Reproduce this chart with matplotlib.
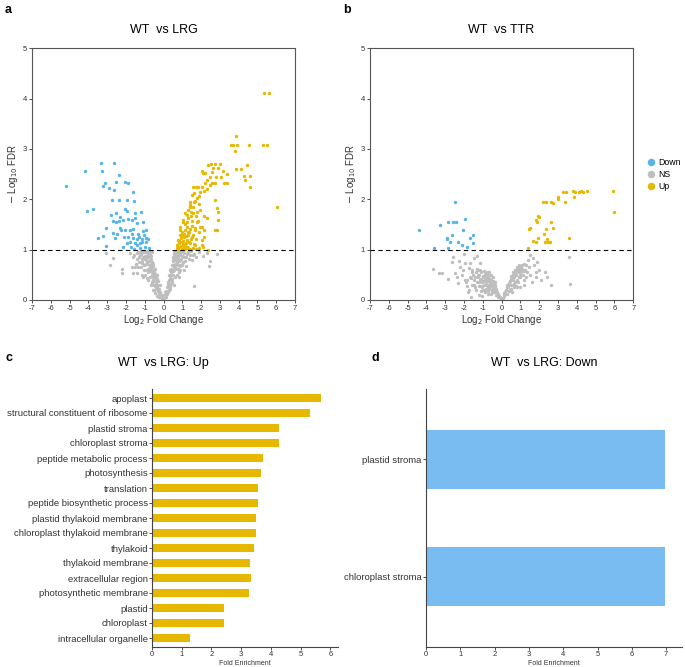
import matplotlib
matplotlib.use("Agg")
import matplotlib.pyplot as plt
import numpy as np

plt.rcParams['font.family'] = ['Liberation Sans', 'DejaVu Sans']
plt.rcParams['axes.unicode_minus'] = False

# colours
blue = "#56B4E9"
yellow = "#E7B800"
grey = "#BEBEBE"
bar_yellow = "#E6B800"
bar_blue = "#78BCF2"

# ---- panel a: WT vs LRG volcano (log2FC, -log10 FDR)
a_down_x = [-5.18, -4.18, -3.34, -2.64, -3.26, -4.09, -3.74, -3.11, -2.51, -2.37, -2.88, -2.66,
            -3.20, -2.03, -1.91, -1.61, -2.76, -2.35, -1.93, -1.59, -3.50, -3.06, -3.20, -3.06,
            -2.58, -2.03, -1.93, -2.82, -2.51, -2.32, -2.14, -1.88, -1.70, -1.52, -1.20, -1.50,
            -1.43, -1.08, -2.67, -2.55, -2.37, -2.32, -2.05, -1.78, -1.61, -2.67, -2.46, -2.28,
            -2.10, -1.88, -1.61, -1.43, -1.29, -1.17, -1.04, -0.93, -0.95, -0.81, -1.26, -1.52,
            -1.96, -2.14, -1.75, -1.26, -0.99, -0.75, -1.57, -1.78, -1.70, -1.34, -1.08, -1.40,
            -1.17, -0.91]
a_down_y = [2.26, 2.56, 2.72, 2.72, 2.56, 1.77, 1.80, 2.33, 2.35, 2.49, 2.22, 2.19,
            2.27, 2.34, 2.33, 2.14, 1.99, 1.99, 1.99, 1.97, 1.23, 1.43, 1.27, 1.07,
            1.23, 1.80, 1.76, 1.69, 1.72, 1.64, 1.59, 1.60, 1.59, 1.73, 1.74, 1.62,
            1.52, 1.54, 1.56, 1.54, 1.56, 1.44, 1.40, 1.40, 1.42, 1.34, 1.32, 1.39,
            1.25, 1.26, 1.23, 1.21, 1.25, 1.21, 1.29, 1.39, 1.23, 1.21, 1.13, 1.14,
            1.14, 1.05, 1.06, 1.03, 1.05, 1.03, 1.01, 1.16, 1.32, 1.32, 1.38, 1.09,
            1.16, 1.16]

a_up_x = [5.35, 5.63, 3.86, 3.57, 3.72, 3.89, 3.81, 4.57, 5.28, 5.49, 3.86, 4.11, 4.43, 4.31,
          4.61, 4.34, 4.61, 6.02, 2.03, 2.21, 2.39, 2.51, 2.74, 3.01, 2.65, 2.92, 3.15, 3.36,
          2.45, 2.81, 3.06, 3.22, 3.36, 2.56, 2.72, 2.21, 2.03, 1.59, 1.73, 1.86, 2.16, 1.50,
          1.90, 2.74, 2.83, 2.88, 2.92, 2.74, 2.86, 2.30, 1.41, 1.68, 1.59, 1.90, 1.32, 1.77,
          1.94, 2.16, 2.30, 1.45, 1.23, 1.02, 1.23, 1.54, 1.84, 1.94, 2.07, 2.16, 1.90, 1.68,
          1.41, 1.15, 0.97, 0.88, 1.09, 1.32, 1.54, 1.75, 2.03, 2.16, 2.03, 2.12, 2.39, 0.79,
          0.97, 1.20, 1.41, 1.68, 1.90, 0.70, 0.88, 1.09, 1.32, 1.59, 0.70, 0.79, 0.97, 1.15,
          1.41, 1.75, 0.84, 1.02, 1.23, 0.91, 1.09, 1.32, 1.50, 1.27, 1.15, 1.73, 1.41, 1.59,
          1.77, 1.94, 2.08, 2.30, 2.56, 2.48, 0.88, 0.75, 0.82, 0.95, 1.05, 1.12, 1.25, 1.35,
          1.45, 0.90, 1.00, 1.18, 1.38, 1.55, 1.62, 1.70, 1.80, 1.05, 1.28, 1.48, 1.12, 1.40,
          1.62, 1.65]
a_up_y = [4.12, 4.12, 3.25, 3.08, 3.08, 3.08, 2.96, 3.08, 3.08, 3.08, 2.61, 2.61, 2.68, 2.47,
          2.47, 2.38, 2.24, 1.85, 2.56, 2.52, 2.68, 2.70, 2.70, 2.70, 2.62, 2.62, 2.57, 2.50,
          2.45, 2.45, 2.45, 2.33, 2.33, 2.33, 2.33, 2.33, 2.24, 2.25, 2.25, 2.25, 2.17, 2.09,
          2.07, 1.99, 1.82, 1.74, 1.59, 1.40, 1.40, 2.20, 1.95, 1.97, 1.85, 1.91, 1.79, 1.75,
          1.79, 1.67, 1.62, 1.66, 1.69, 1.59, 1.54, 1.56, 1.57, 1.46, 1.46, 1.39, 1.36, 1.40,
          1.42, 1.39, 1.36, 1.29, 1.26, 1.29, 1.25, 1.21, 1.19, 1.25, 1.09, 1.05, 1.00, 1.19,
          1.16, 1.13, 1.14, 1.09, 1.03, 1.09, 1.06, 1.05, 1.03, 1.03, 1.03, 1.01, 1.01, 1.01,
          1.01, 1.01, 1.13, 1.11, 1.19, 1.24, 1.32, 1.36, 1.47, 1.46, 1.51, 1.66, 1.89, 1.72,
          2.02, 2.15, 2.52, 2.38, 2.55, 2.28, 1.39, 1.06, 1.17, 1.08, 1.18, 1.10, 1.06, 1.15,
          1.22, 1.45, 1.30, 1.28, 1.35, 1.30, 1.12, 1.44, 1.55, 1.55, 1.62, 1.75, 1.72, 1.85,
          1.95, 2.12]

a_ns_x = [-3.06, -2.71, -2.85, -2.23, -2.23, -1.78, -1.61, -1.43, -1.70, -1.52, -1.34, -1.43,
          -1.61, -1.17, -1.04, -1.17, -0.90, -0.81, -0.90, -0.72, -0.63, -0.54, -0.45, -0.36,
          -0.22, -0.10, -0.05, -0.12, -0.18, -0.22, -0.28, -0.30, -0.35, -0.33, -0.40, -0.42,
          -0.46, -0.50, -0.52, -0.55, -0.58, -0.60, -0.62, -0.65, -0.68, -0.70, -0.72, -0.75,
          -0.78, -0.80, -0.85, -0.88, -0.92, -0.95, -1.00, -1.05, -1.10, -1.15, -1.20, -1.25,
          -1.30, -0.70, -0.80, -0.90, -1.00, -0.60, -0.50, -0.40, -0.85, -1.10,
          -0.08, -0.15, -0.20, -0.25, -0.32, -0.38, -0.42, -0.45, -0.50, -0.55, -0.58, -0.60,
          -0.63, -0.67, -0.70, -0.73, -0.76, -0.80, -0.83, -0.86, -0.90, -0.95, -0.98, -1.02,
          -1.08, -1.12, -1.18, -1.22, -1.28, -1.35, -1.40, -1.45, -1.55, -0.55, -0.65, -0.45,
          -0.35, -0.28, -0.72, -0.62,
          0.05, 0.10, 0.15, 0.20, 0.18, 0.25, 0.28, 0.30, 0.35, 0.33, 0.38, 0.40, 0.42, 0.45,
          0.48, 0.50, 0.52, 0.55, 0.58, 0.60, 0.62, 0.65, 0.68, 0.70, 0.72, 0.75, 0.78, 0.80,
          0.85, 0.90, 0.95, 1.00, 1.05, 1.10, 1.20, 1.30, 1.40, 1.50, 1.60, 1.75, 1.90, 2.10,
          2.30, 2.45, 2.40, 2.85, 1.65, 0.90, 0.70, 1.10, 0.55, 0.80, 1.00, 1.20, 0.65, 0.75,
          0.85, 0.95, 0.60, 0.45, 0.35, -0.15, -0.25, -0.38, -0.48, -0.55, -0.65, -0.75,
          0.08, 0.12, 0.22, 0.25, 0.30, 0.32, 0.36, 0.40, 0.44, 0.46, 0.50, 0.53, 0.56, 0.58,
          0.62, 0.64, 0.66, 0.70, 0.73, 0.76, 0.80, 0.82, 0.86, 0.90, 0.94, 0.98, 1.02, 1.08,
          1.15, 1.25, 1.35, 1.45, 1.55, 0.40, 0.48, 0.55, 0.35, 0.28, 0.62, 0.70]
a_ns_y = [0.93, 0.84, 0.70, 0.61, 0.53, 0.93, 0.86, 0.93, 0.66, 0.66, 0.66, 0.53,
          0.53, 0.73, 0.60, 0.50, 0.43, 0.86, 0.73, 0.66, 0.33, 0.20, 0.13, 0.07,
          0.05, 0.01, 0.03, 0.08, 0.15, 0.22, 0.18, 0.30, 0.38, 0.25, 0.45, 0.35,
          0.52, 0.42, 0.60, 0.50, 0.68, 0.55, 0.75, 0.62, 0.82, 0.70, 0.90, 0.78,
          0.95, 0.85, 0.92, 0.72, 0.80, 0.96, 0.88, 0.70, 0.95, 0.82, 0.66, 0.90,
          0.75, 0.45, 0.55, 0.60, 0.50, 0.35, 0.30, 0.22, 0.40, 0.45,
          0.10, 0.05, 0.30, 0.12, 0.42, 0.30, 0.50, 0.28, 0.55, 0.38, 0.45, 0.65,
          0.50, 0.72, 0.58, 0.65, 0.88, 0.62, 0.78, 0.98, 0.88, 0.72, 0.82, 0.95,
          0.85, 0.75, 0.92, 0.98, 0.85, 0.95, 0.82, 0.72, 0.90, 0.72, 0.88, 0.62,
          0.50, 0.38, 0.98, 0.95,
          0.04, 0.10, 0.18, 0.25, 0.12, 0.32, 0.20, 0.40, 0.48, 0.30, 0.55, 0.40, 0.62, 0.50,
          0.70, 0.58, 0.78, 0.65, 0.85, 0.72, 0.92, 0.80, 0.97, 0.88, 0.75, 0.95, 0.85, 0.70,
          0.90, 0.80, 0.95, 0.88, 0.75, 0.93, 0.85, 0.95, 0.90, 0.80, 0.92, 0.85, 0.95, 0.88,
          0.93, 0.78, 0.68, 0.92, 0.28, 0.60, 0.50, 0.60, 0.30, 0.45, 0.70, 0.68, 0.90, 0.62,
          0.55, 0.98, 0.45, 0.35, 0.22, 0.10, 0.12, 0.28, 0.20, 0.40, 0.30, 0.60,
          0.15, 0.05, 0.35, 0.15, 0.50, 0.25, 0.60, 0.32, 0.70, 0.42, 0.80, 0.50, 0.92, 0.60,
          0.65, 0.98, 0.72, 0.62, 0.82, 0.70, 0.98, 0.78, 0.68, 0.92, 0.82, 0.72, 0.98, 0.85,
          0.78, 0.92, 0.82, 0.98, 0.90, 0.60, 0.85, 0.95, 0.42, 0.30, 0.82, 0.95]

# ---- panel b: WT vs TTR volcano
b_down_x = [-4.38, -3.60, -3.28, -2.84, -2.57, -2.43, -2.48, -1.95, -2.07, -2.66, -2.89, -2.92,
            -2.75, -2.30, -2.12, -1.86, -1.68, -1.51, -1.51, -2.84]
b_down_y = [1.39, 1.03, 1.49, 1.54, 1.54, 1.54, 1.95, 1.61, 1.40, 1.30, 1.23, 1.21,
            1.15, 1.16, 1.09, 1.05, 1.24, 1.29, 1.14, 1.03]

b_up_x = [1.42, 1.47, 1.51, 1.68, 1.81, 1.83, 1.86, 1.95, 2.00, 1.91, 2.25, 2.36, 2.30, 2.39,
          2.48, 2.57, 2.61, 2.74, 3.60, 2.21, 2.34, 2.61, 2.71, 2.98, 3.01, 3.25, 3.42, 3.37,
          3.78, 3.90, 3.86, 4.13, 4.20, 4.31, 4.52, 5.90, 5.97]
b_up_y = [1.04, 1.41, 1.43, 1.17, 1.16, 1.58, 1.55, 1.66, 1.64, 1.23, 1.31, 1.41, 1.16, 1.21,
          1.15, 1.16, 1.55, 1.43, 1.23, 1.95, 1.95, 1.95, 1.92, 2.05, 2.00, 2.14, 2.14, 1.95,
          2.17, 2.14, 2.05, 2.14, 2.16, 2.14, 2.17, 2.17, 1.74]

b_ns_x = [-3.63, -3.32, -3.15, -2.84, -2.66, -2.60, -2.25, -2.21, -2.39, -2.30, -2.48, -2.04,
          -1.96, -1.68, -1.72, -1.45, -1.33, -1.15, -1.96, -1.83, -2.13, -1.61, -1.45, -2.00,
          -1.90, -1.80, -1.55, -1.25, -1.20, -1.10, -1.05, -1.00, -0.95, -0.90, -0.85, -0.80,
          -0.75, -0.70, -0.65, -0.60, -0.55, -0.50, -0.45, -0.40, -0.35, -0.30, -0.25, -0.20,
          -0.15, -0.10, -0.05, -1.30, -1.15, -1.00, -0.90, -0.80, -0.70, -0.60, -0.50, -1.20,
          -1.10, -0.95, -0.85, -0.75, -0.65, -1.40, -1.25, -0.55, -0.45, -0.35, -0.98, -0.88,
          -0.72, -0.62, -1.05, -1.35, -1.50, -1.65,
          -0.12, -0.20, -0.28, -0.32, -0.38, -0.42, -0.48, -0.52, -0.58, -0.62, -0.68, -0.70,
          -0.78, -0.82, -0.88, -0.92, -0.98, -1.02, -1.08, -1.12, -1.18, -1.22, -1.28, -1.32,
          -1.38, -1.42, -1.48, -1.55, -1.60, -1.70, -1.75, -1.85, -0.55, -0.65, -0.75, -0.85,
          -0.95, -1.15, -0.45, -0.35,
          0.05, 0.10, 0.15, 0.20, 0.25, 0.30, 0.35, 0.40, 0.45, 0.50, 0.55, 0.60, 0.65, 0.70,
          0.75, 0.80, 0.85, 0.90, 0.95, 1.00, 1.05, 1.10, 1.20, 0.30, 0.40, 0.50, 0.60, 0.70,
          0.80, 0.55, 0.65, 0.75, 1.51, 1.65, 1.40, 1.30, 1.70, 1.90, 2.00, 2.30, 1.80, 1.20,
          2.40, 3.60, 3.65, 2.60, 1.00, 0.90, 1.10, 0.80, 1.50, 1.30, 1.60, 1.20, 1.00, 1.80,
          2.10,
          0.12, 0.22, 0.28, 0.35, 0.42, 0.48, 0.52, 0.58, 0.62, 0.68, 0.72, 0.78, 0.82, 0.88,
          0.92, 0.98, 1.05, 1.12, 1.18, 1.25, 1.35, 1.45, 0.45, 0.65, 0.85]
b_ns_y = [0.61, 0.54, 0.54, 0.41, 0.76, 0.86, 0.78, 0.66, 0.46, 0.33, 0.53, 0.60,
          0.73, 0.73, 0.63, 0.83, 0.87, 0.73, 0.40, 0.27, 0.50, 0.43, 0.30, 0.92,
          0.35, 0.15, 0.60, 0.50, 0.35, 0.55, 0.25, 0.45, 0.30, 0.50, 0.35, 0.40,
          0.25, 0.45, 0.30, 0.35, 0.40, 0.28, 0.32, 0.20, 0.25, 0.18, 0.15, 0.12,
          0.08, 0.05, 0.02, 0.62, 0.40, 0.20, 0.15, 0.52, 0.18, 0.50, 0.15, 0.10,
          0.28, 0.58, 0.22, 0.55, 0.22, 0.45, 0.60, 0.12, 0.38, 0.30, 0.38, 0.42,
          0.12, 0.42, 0.08, 0.20, 0.50, 0.05,
          0.08, 0.05, 0.22, 0.10, 0.35, 0.15, 0.45, 0.20, 0.50, 0.25, 0.55, 0.38,
          0.48, 0.30, 0.55, 0.20, 0.48, 0.35, 0.42, 0.18, 0.50, 0.28, 0.45, 0.35,
          0.55, 0.25, 0.40, 0.30, 0.55, 0.45, 0.20, 0.40, 0.32, 0.42, 0.30, 0.45,
          0.38, 0.60, 0.22, 0.18,
          0.04, 0.08, 0.12, 0.16, 0.20, 0.25, 0.30, 0.33, 0.38, 0.42, 0.45, 0.50, 0.52, 0.56,
          0.58, 0.60, 0.62, 0.64, 0.66, 0.60, 0.55, 0.62, 0.58, 0.12, 0.18, 0.22, 0.30, 0.35,
          0.40, 0.15, 0.25, 0.28, 0.89, 0.83, 0.80, 0.70, 0.70, 0.75, 0.60, 0.55, 0.55, 0.40,
          0.45, 0.85, 0.32, 0.30, 0.50, 0.45, 0.70, 0.25, 0.50, 0.45, 0.35, 0.30, 0.25, 0.45,
          0.40,
          0.14, 0.20, 0.30, 0.25, 0.38, 0.30, 0.48, 0.40, 0.55, 0.45, 0.60, 0.50, 0.65, 0.55,
          0.70, 0.45, 0.68, 0.50, 0.72, 0.60, 0.55, 0.65, 0.20, 0.32, 0.35]

# ---- panel c: GO enrichment, up
c_terms = ["apoplast", "structural constituent of ribosome", "plastid stroma", "chloroplast stroma",
           "peptide metabolic process", "photosynthesis", "translation", "peptide biosynthetic process",
           "plastid thylakoid membrane", "chloroplast thylakoid membrane", "thylakoid",
           "thylakoid membrane", "extracellular region", "photosynthetic membrane", "plastid",
           "chloroplast", "intracellular organelle"]
c_fold = [5.70, 5.33, 4.27, 4.27, 3.72, 3.66, 3.57, 3.57, 3.49, 3.49, 3.44, 3.31, 3.32, 3.25,
          2.44, 2.44, 1.28]

# ---- panel d: GO enrichment, down
d_terms = ["plastid stroma", "chloroplast stroma"]
d_fold = [6.96, 6.96]

W, H = 685, 667
fig = plt.figure(figsize=(W / 100, H / 100), dpi=100)


def box(l, t, r, b):
    return [l / W, 1 - b / H, (r - l) / W, (b - t) / H]


def volcano(ax, dx, dy, nx, ny, ux, uy, title, cx):
    ax.scatter(nx, ny, s=6, c=grey, linewidths=0, label="NS", zorder=2)
    ax.scatter(dx, dy, s=6, c=blue, linewidths=0, label="Down", zorder=3)
    ax.scatter(ux, uy, s=6, c=yellow, linewidths=0, label="Up", zorder=3)
    ax.axhline(1, color="black", ls=(0, (4, 3)), lw=0.8, zorder=4)
    ax.set_xlim(-7, 7)
    ax.set_ylim(0, 5)
    ax.set_xticks(range(-7, 8))
    ax.set_yticks(range(0, 6))
    ax.tick_params(labelsize=5.5, length=2, width=0.6, pad=1.5, colors="#333333")
    for s in ax.spines.values():
        s.set_color("#555555")
        s.set_linewidth(0.8)
    ax.set_xlabel("Log$_2$ Fold Change", fontsize=7, labelpad=1, color="#333333")
    ax.set_ylabel("$-$ Log$_{10}$ FDR", fontsize=7, labelpad=2, color="#333333")
    fig.text(cx / W, 1 - 30 / H, title, ha="center", va="center", fontsize=9)


ax_a = fig.add_axes(box(32, 48.3, 295, 300))
volcano(ax_a, a_down_x, a_down_y, a_ns_x, a_ns_y, a_up_x, a_up_y, "WT  vs LRG", 163.5)

ax_b = fig.add_axes(box(370, 48.3, 633.3, 300))
volcano(ax_b, b_down_x, b_down_y, b_ns_x, b_ns_y, b_up_x, b_up_y, "WT  vs TTR", 501.5)
h, l = ax_b.get_legend_handles_labels()
order = [1, 0, 2]
ax_b.legend([h[i] for i in order], [l[i] for i in order], loc="center left",
            bbox_to_anchor=((647 - 370) / 263.3, 0.5), frameon=False, fontsize=6.3,
            markerscale=2.2, handlelength=1.0, handletextpad=0.25, labelspacing=0.35,
            borderaxespad=0, borderpad=0)

# bar panels
ax_c = fig.add_axes(box(152, 389, 338, 647))
pos_c = np.arange(len(c_terms))[::-1] + 1
ax_c.barh(pos_c, c_fold, height=0.5, color=bar_yellow)
ax_c.set_yticks(pos_c)
ax_c.set_yticklabels(c_terms, fontsize=6.8, color="#222222")
ax_c.set_ylim(0.4, len(c_terms) + 0.6)
ax_c.set_xlim(0, 6.26)
ax_c.set_xticks(range(0, 7))
ax_c.set_xlabel("Fold Enrichment", fontsize=5, labelpad=1, color="#333333")
fig.text(163 / W, 1 - 363 / H, "WT  vs LRG: Up", ha="center", va="center", fontsize=9)

ax_d = fig.add_axes(box(426, 389, 682, 647))
pos_d = np.arange(len(d_terms))[::-1] + 1
ax_d.barh(pos_d, d_fold, height=0.5, color=bar_blue)
ax_d.set_yticks(pos_d)
ax_d.set_yticklabels(d_terms, fontsize=6.8, color="#222222")
ax_d.set_ylim(0.4, len(d_terms) + 0.6)
ax_d.set_xlim(0, 7.46)
ax_d.set_xticks(range(0, 8))
ax_d.set_xlabel("Fold Enrichment", fontsize=5, labelpad=1, color="#333333")
fig.text(544 / W, 1 - 363 / H, "WT  vs LRG: Down", ha="center", va="center", fontsize=9)

for ax in (ax_c, ax_d):
    ax.spines["top"].set_visible(False)
    ax.spines["right"].set_visible(False)
    ax.spines["left"].set_color("#444444")
    ax.spines["bottom"].set_color("#444444")
    ax.tick_params(axis="x", labelsize=5.5, length=2, width=0.6, pad=1, colors="#333333")
    ax.tick_params(axis="y", length=2, width=0.6, pad=1, colors="#333333")

# panel letters
for txt, x, y in [("a", 5, 10), ("b", 343, 10), ("c", 5, 358), ("d", 372, 358)]:
    fig.text(x / W, 1 - y / H, txt, fontsize=9, fontweight="bold", ha="left", va="center")

fig.savefig("out.png", dpi=100)
